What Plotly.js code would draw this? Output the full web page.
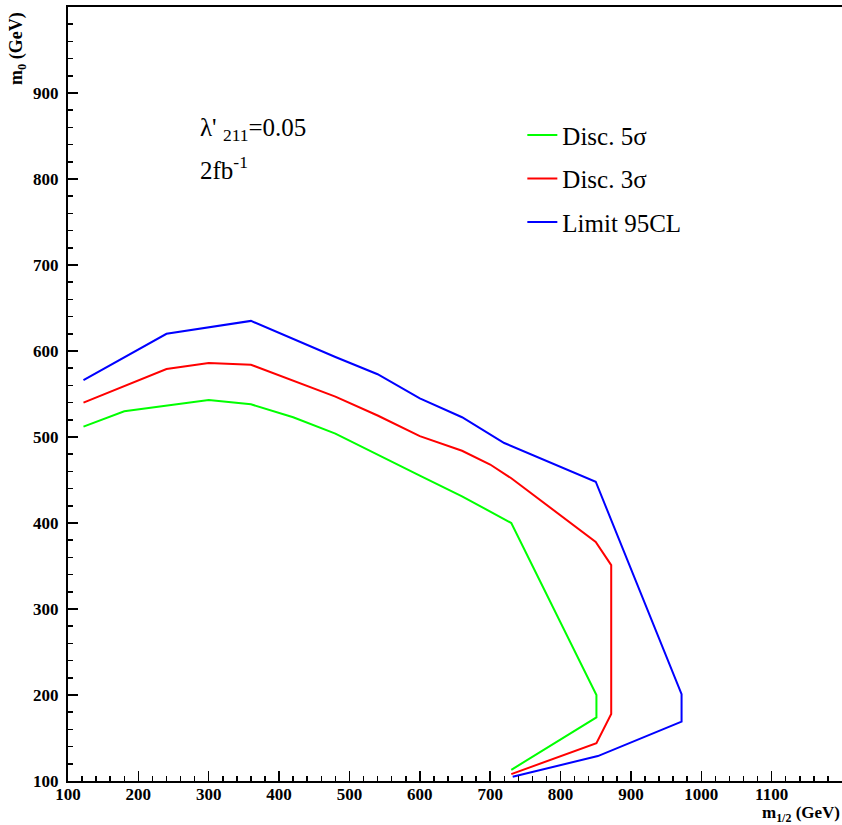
<!DOCTYPE html>
<html>
<head>
<meta charset="utf-8">
<script src="https://cdn.plot.ly/plotly-3.0.1.min.js"></script>
<style>
  html, body { margin: 0; padding: 0; background: #ffffff; }
  #chart { width: 842px; height: 825px; }
</style>
</head>
<body>
<div id="chart"></div>
<script>
// Reach contours in the (m1/2, m0) plane, lambda'_211 = 0.05, 2 fb^-1
const m12Disc5 = [122, 180, 300, 360, 420, 480, 600, 660, 730, 851, 851, 730];
const m0Disc5  = [512, 530, 543, 538, 523, 504, 455, 431, 400, 200, 174, 113];

const m12Disc3 = [122, 240, 300, 360, 480, 540, 600, 660, 700, 730, 850, 872, 872, 851, 730];
const m0Disc3  = [540, 579, 586, 584, 547, 525, 501, 484, 468, 452, 378, 351, 178, 144, 108];

const m12Limit = [122, 240, 360, 480, 540, 600, 660, 720, 850, 972, 972, 853, 732];
const m0Limit  = [566, 620, 635, 593, 573, 545, 523, 493, 448, 201, 169, 129, 105];

const seriesNames = ['Disc. 5\u03c3', 'Disc. 3\u03c3', 'Limit 95CL'];
const seriesColors = ['#00ff00', '#ff0000', '#0000ff'];

const xTicks = [100, 200, 300, 400, 500, 600, 700, 800, 900, 1000, 1100];
const yTicks = [100, 200, 300, 400, 500, 600, 700, 800, 900];

const serif = 'Liberation Serif, Times New Roman, serif';

const xs = [m12Disc5, m12Disc3, m12Limit];
const ys = [m0Disc5, m0Disc3, m0Limit];

const traces = xs.map((x, i) => ({
  x: x,
  y: ys[i],
  type: 'scatter',
  mode: 'lines',
  name: seriesNames[i],
  legendgroup: 'g' + i,
  line: { color: seriesColors[i], width: 2 }
}));

const axisCommon = {
  showgrid: false,
  zeroline: false,
  showline: true,
  linecolor: '#000000',
  linewidth: 2,
  mirror: true,
  ticks: 'inside',
  ticklen: 10,
  tickwidth: 1.5,
  tickcolor: '#000000',
  tickmode: 'array',
  tickfont: { family: serif, size: 17, color: '#000000', weight: 'bold' },
  minor: { ticks: 'inside', ticklen: 5, tickwidth: 1.5, tickcolor: '#000000', tickmode: 'linear', tick0: 100, dtick: 20 }
};

const layout = {
  width: 842,
  height: 825,
  margin: { l: 68, r: 0, t: 7, b: 44 },
  paper_bgcolor: '#ffffff',
  plot_bgcolor: '#ffffff',
  showlegend: true,
  legend: {
    x: 0.587, xanchor: 'left',
    y: 0.864, yanchor: 'top',
    bgcolor: 'rgba(0,0,0,0)',
    borderwidth: 0,
    tracegroupgap: 8,
    font: { family: serif, size: 25, color: '#000000' }
  },
  xaxis: Object.assign({}, axisCommon, {
    range: [100, 1200],
    tickvals: xTicks,
    ticktext: xTicks.map(String),
    ticklabelstandoff: -3
  }),
  yaxis: Object.assign({}, axisCommon, {
    range: [100, 1000],
    tickvals: yTicks,
    ticktext: yTicks.map(String),
    ticklabelstandoff: 4
  }),
  annotations: [
    {
      xref: 'x', yref: 'y', x: 285, y: 857, xanchor: 'left', yanchor: 'middle',
      text: '\u03bb\' <sub>211</sub>=0.05', showarrow: false,
      font: { family: serif, size: 25, color: '#000000' }
    },
    {
      xref: 'x', yref: 'y', x: 285, y: 813, xanchor: 'left', yanchor: 'middle',
      text: '2fb<sup>-1</sup>', showarrow: false,
      font: { family: serif, size: 25, color: '#000000' }
    },
    {
      xref: 'paper', yref: 'paper', x: 1, y: -0.042, xanchor: 'right', yanchor: 'middle',
      text: 'm<sub>1/2</sub> (GeV)', showarrow: false,
      font: { family: serif, size: 17, color: '#000000', weight: 'bold' }
    },
    {
      xref: 'paper', yref: 'paper', x: -0.0653, y: 0.996, xanchor: 'center', yanchor: 'top',
      text: 'm<sub>0</sub> (GeV)', textangle: -90, showarrow: false,
      font: { family: serif, size: 18, color: '#000000', weight: 'bold' }
    }
  ]
};

Plotly.newPlot('chart', traces, layout, { displayModeBar: false, staticPlot: true });
</script>
</body>
</html>
